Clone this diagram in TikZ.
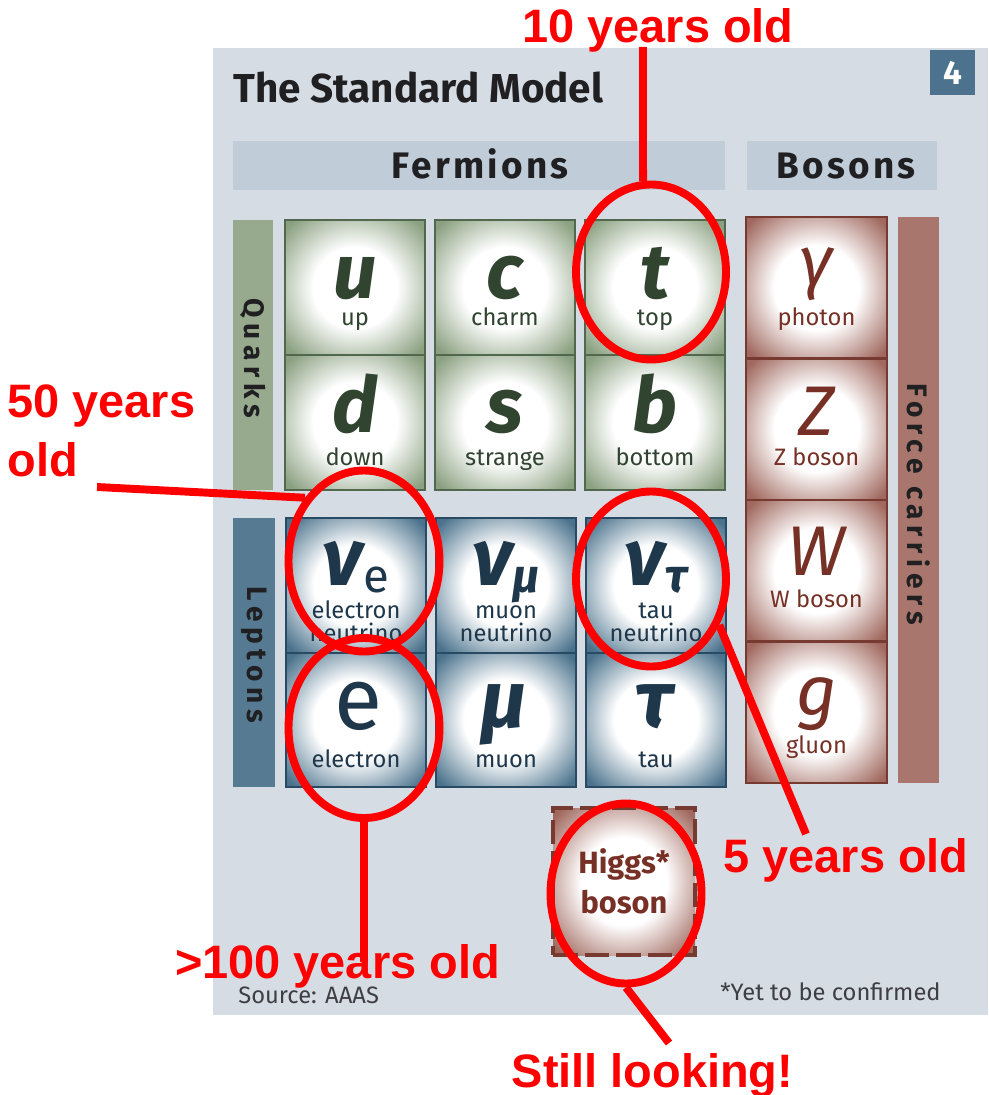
\documentclass[tikz,border=0pt]{standalone}
\usepackage{fontspec}
\setmainfont{Fira Sans}
\newfontfamily\redfont{Liberation Sans}
\newfontfamily\hdrfont[LetterSpace=9]{Fira Sans}
\newfontfamily\sidefont[LetterSpace=20]{Fira Sans}
\usetikzlibrary{shapes.geometric}
\definecolor{panel}{RGB}{213,220,227}
\definecolor{band}{RGB}{192,205,216}
\definecolor{qband}{RGB}{152,170,142}
\definecolor{qout}{RGB}{138,160,128}
\definecolor{qline}{RGB}{82,104,78}
\definecolor{qtext}{RGB}{48,68,48}
\definecolor{lband}{RGB}{86,122,146}
\definecolor{lout}{RGB}{74,114,140}
\definecolor{lline}{RGB}{40,74,98}
\definecolor{ltext}{RGB}{30,55,75}
\definecolor{bband}{RGB}{168,118,108}
\definecolor{bout}{RGB}{160,104,94}
\definecolor{bline}{RGB}{118,58,48}
\definecolor{btext}{RGB}{118,48,38}
\definecolor{numbox}{RGB}{76,114,142}
\definecolor{srcgrey}{RGB}{62,62,68}
\definecolor{titlegrey}{RGB}{32,32,34}
\definecolor{annot}{RGB}{255,0,0}
\pgfdeclareradialshading{qshade}{\pgfpoint{0bp}{0bp}}{color(0bp)=(white); color(15bp)=(white); color(33bp)=(qout); color(50bp)=(qout)}
\pgfdeclareradialshading{lshade}{\pgfpoint{0bp}{0bp}}{color(0bp)=(white); color(15bp)=(white); color(33bp)=(lout); color(50bp)=(lout)}
\pgfdeclareradialshading{bshade}{\pgfpoint{0bp}{0bp}}{color(0bp)=(white); color(15bp)=(white); color(33bp)=(bout); color(50bp)=(bout)}
\tikzset{
  cell/.style={rectangle, line width=1.2pt, inner sep=0pt, shade},
  qcell/.style={cell, draw=qline, shading=qshade, minimum width=140*0.02cm, minimum height=135*0.02cm},
  lcell/.style={cell, draw=lline, shading=lshade, minimum width=140*0.02cm, minimum height=134.5*0.02cm},
  bcell/.style={cell, draw=bline, shading=bshade, minimum width=141*0.02cm, minimum height=141.5*0.02cm},
  qsym/.style={anchor=base, inner sep=0pt, text=qtext, font=\fontsize{44}{44}\selectfont\bfseries\itshape},
  lsym/.style={anchor=base, inner sep=0pt, text=ltext, font=\fontsize{46}{46}\selectfont\bfseries\itshape},
  bsym/.style={anchor=base, inner sep=0pt, text=btext, font=\fontsize{40}{40}\selectfont\itshape},
  qlab/.style={anchor=base, inner sep=0pt, text=qtext, font=\fontsize{13.5}{14}\selectfont},
  llab/.style={anchor=base, inner sep=0pt, text=ltext, font=\fontsize{13.5}{14}\selectfont},
  blab/.style={anchor=base, inner sep=0pt, text=btext, font=\fontsize{13.5}{14}\selectfont},
  hdr/.style={rectangle, fill=band, inner sep=0pt, minimum height=49*0.02cm},
  hdrtext/.style={anchor=base, inner sep=0pt, text=titlegrey, font=\hdrfont\bfseries\fontsize{21}{24}\selectfont},
  sideband/.style={rectangle, inner sep=0pt},
  sidetext/.style={rotate=-90, inner sep=0pt, text=titlegrey, font=\sidefont\bfseries\fontsize{16}{18}\selectfont},
  ring/.style={ellipse, draw=annot, line width=4.5pt, inner sep=0pt},
  wire/.style={draw=annot, line width=4.5pt},
  ann/.style={inner sep=0pt, text=annot, font=\redfont\bfseries\fontsize{26.7}{34}\selectfont},
  small/.style={inner sep=0pt, text=srcgrey, font=\fontsize{13.5}{15}\selectfont},
}
\begin{document}
\begin{tikzpicture}[x=0.02cm, y=-0.02cm]
\useasboundingbox (0,0) rectangle (988,1095);
\fill[white] (0,0) rectangle (988,1095);
% panel
\node[rectangle, fill=panel, inner sep=0pt, minimum width=775*0.02cm, minimum height=967*0.02cm] (panel) at (600.5,531.5) {};
\node[anchor=base west, inner sep=0pt, text=titlegrey, font=\bfseries\fontsize{23}{26}\selectfont] (title) at (233,103) {The Standard Model};
\node[rectangle, fill=numbox, inner sep=0pt, minimum width=45*0.02cm, minimum height=45*0.02cm, text=white, font=\bfseries\fontsize{19}{20}\selectfont] (num) at (952.5,72.5) {4};
% header bands
\node[hdr, minimum width=492*0.02cm] (ferm) at (479,165.5) {};
\node[hdr, minimum width=190*0.02cm] (bos) at (842,165.5) {};
\node[hdrtext] (fermt) at (480,178) {Fermions};
\node[hdrtext] (bost) at (846,178) {Bosons};
% side bands
\node[sideband, fill=qband, minimum width=40*0.02cm, minimum height=270*0.02cm] (qb) at (253,355) {};
\node[sideband, fill=lband, minimum width=42*0.02cm, minimum height=269*0.02cm] (lb) at (254,652.5) {};
\node[sideband, fill=bband, minimum width=41*0.02cm, minimum height=566*0.02cm] (fb) at (918.5,500) {};
\node[sidetext] (qbt) at (253,358) {Quarks};
\node[sidetext] (lbt) at (254,655) {Leptons};
\node[sidetext] (fbt) at (918.5,504) {Force carriers};
% quarks
\node[qcell] (u) at (355,287.5) {};
\node[qcell] (c) at (505,287.5) {};
\node[qcell] (t) at (655,287.5) {};
\node[qcell] (d) at (355,422.5) {};
\node[qcell] (s) at (505,422.5) {};
\node[qcell] (b) at (655,422.5) {};
\node[qsym] (us) at (355,298) {u};
\node[qsym] (cs) at (505,298) {c};
\node[qsym] (ts) at (655,298) {t};
\node[qsym] (ds) at (355,432) {d};
\node[qsym] (ss) at (505,432) {s};
\node[qsym] (bs) at (655,432) {b};
\node[qlab] (ul) at (355,325) {up};
\node[qlab] (cl) at (505,325) {charm};
\node[qlab] (tl) at (655,325) {top};
\node[qlab] (dl) at (355,465) {down};
\node[qlab] (sl) at (505,465) {strange};
\node[qlab] (bl) at (655,465) {bottom};
% leptons
\node[lcell] (ne) at (356,585.5) {};
\node[lcell] (nm) at (506,585.5) {};
\node[lcell] (nt) at (656,585.5) {};
\node[lcell] (e) at (356,720) {};
\node[lcell] (m) at (506,720) {};
\node[lcell] (ta) at (656,720) {};
\node[lsym] (nes) at (356,585) {ν\raisebox{-4.5pt}{\fontsize{27}{27}\selectfont\mdseries\upshape e}};
\node[lsym] (nms) at (356+150,585) {ν\raisebox{-4.5pt}{\fontsize{27}{27}\selectfont μ}};
\node[lsym] (nts) at (356+300,585) {ν\raisebox{-4.5pt}{\fontsize{27}{27}\selectfont τ}};
\node[anchor=base, inner sep=0pt, text=ltext, font=\fontsize{50}{50}\selectfont] (es) at (358,729) {e};
\node[lsym] (ms) at (504,727) {μ};
\node[lsym] (tas) at (654,727) {τ};
\node[llab] (nel) at (356,618) {electron};
\node[llab] (nel2) at (356,641) {neutrino};
\node[llab] (nml) at (506,618) {muon};
\node[llab] (nml2) at (506,641) {neutrino};
\node[llab] (ntl) at (656,618) {tau};
\node[llab] (ntl2) at (656,641) {neutrino};
\node[llab] (el) at (356,767) {electron};
\node[llab] (ml) at (506,767) {muon};
\node[llab] (tal) at (656,767) {tau};
% bosons
\node[bcell] (ga) at (816.5,287.75) {};
\node[bcell] (z) at (816.5,429.25) {};
\node[bcell] (w) at (816.5,570.75) {};
\node[bcell] (g) at (816.5,712.25) {};
\node[bsym] (gas) at (816.5,285) {γ};
\node[bsym] (zs) at (816.5,435) {Z};
\node[bsym] (ws) at (816.5,575) {W};
\node[bsym] (gs) at (816.5,715) {g};
\node[blab] (gal) at (816.5,325) {photon};
\node[blab] (zl) at (816.5,465) {Z boson};
\node[blab] (wl) at (816.5,607) {W boson};
\node[blab] (gl) at (816.5,753) {gluon};
% Higgs
\node[rectangle, draw=bline, line width=2pt, dash pattern=on 14pt off 4pt, shade, shading=bshade, inner sep=0pt, minimum width=142*0.02cm, minimum height=147*0.02cm, align=center, text=btext, font=\bfseries\fontsize{17.5}{22.8}\selectfont] (h) at (624,881.5) {Higgs*\\boson};
% footnotes
\node[small, anchor=base west] (src) at (238,1003) {Source: AAAS};
\node[small, anchor=base east] (yet) at (941,1000) {*Yet to be confirmed};
% annotations
\node[ring, minimum width=150*0.02cm, minimum height=175*0.02cm] (ellT) at (651,272) {};
\node[ring, minimum width=151*0.02cm, minimum height=181*0.02cm] (ellNe) at (364,561) {};
\node[ring, minimum width=151*0.02cm, minimum height=180*0.02cm] (ellE) at (364,728) {};
\node[ring, minimum width=150*0.02cm, minimum height=175*0.02cm] (ellTau) at (651,579) {};
\node[ring, minimum width=151*0.02cm, minimum height=180*0.02cm] (ellH) at (626,893.5) {};
\coordinate (c10) at (643,47);
\coordinate (c50) at (97,487);
\coordinate (c5) at (806,834);
\coordinate (c100) at (364,962);
\coordinate (cst) at (669,1043);
\draw[wire] (c10) -- (ellT.95);
\draw[wire] (c50) -- (ellNe.133);
\draw[wire] (ellTau.-34) -- (c5);
\draw[wire] (ellE.south) -- (c100);
\draw[wire] (ellH.south) -- (cst);
\node[ann, anchor=base] (t10) at (658,43) {10 years old};
\node[ann, anchor=north west, align=left] (t50) at (7,384) {50 years\\old};
\node[ann, anchor=base] (t5) at (846,872) {5 years old};
\node[ann, anchor=base] (t100) at (337.5,978) {>100 years old};
\node[ann, anchor=base] (tst) at (652.5,1087) {Still looking!};
\end{tikzpicture}
\end{document}
